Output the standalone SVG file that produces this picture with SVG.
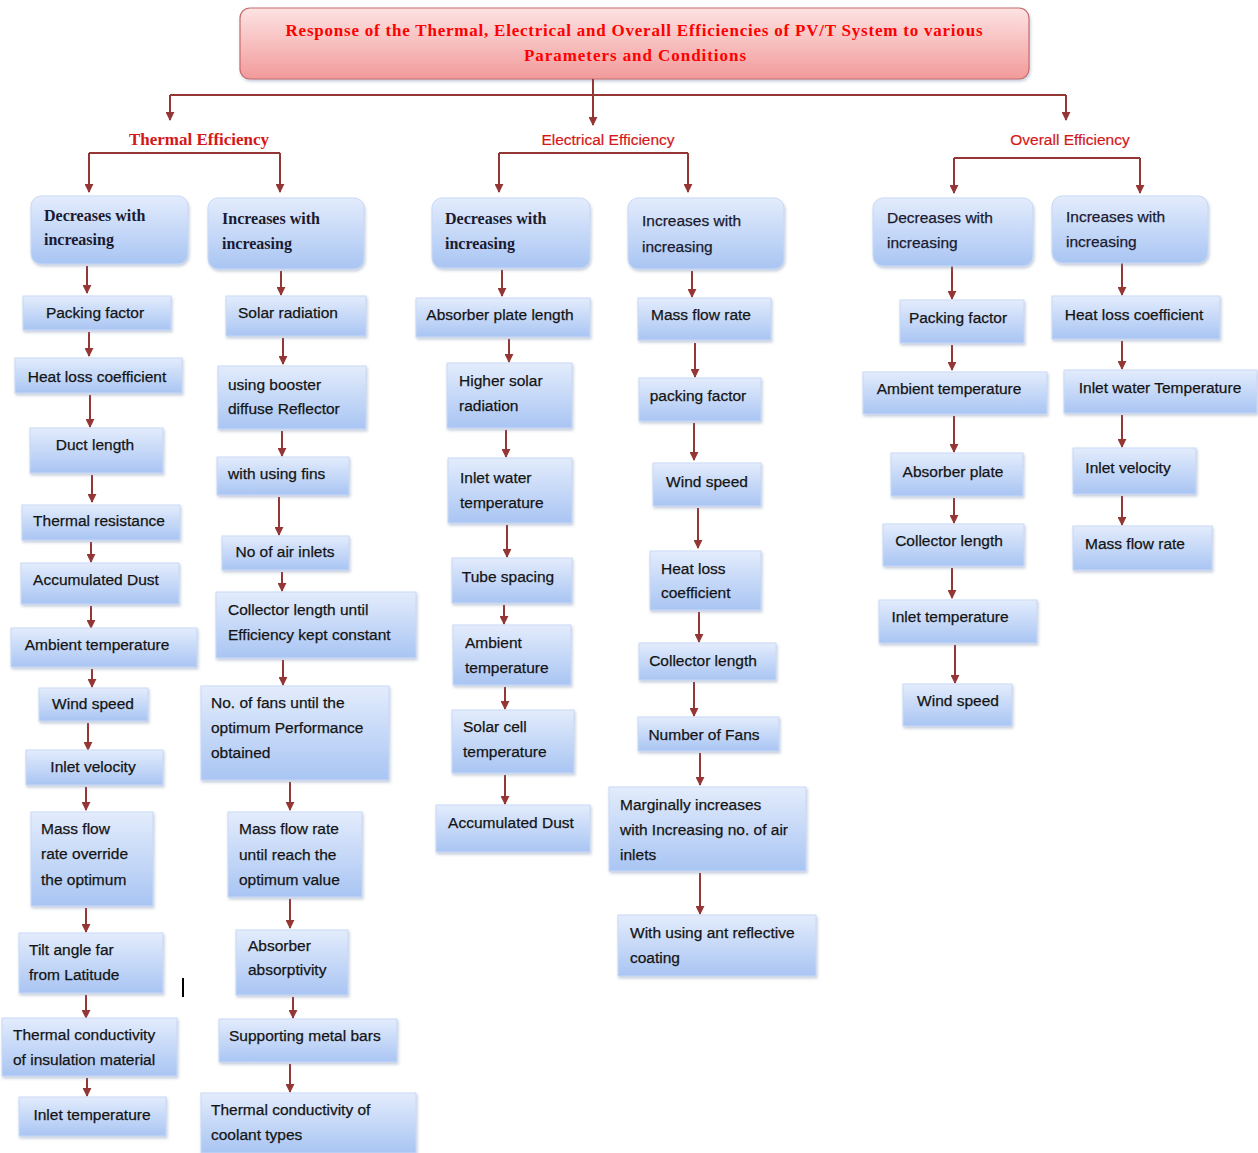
<svg xmlns="http://www.w3.org/2000/svg" width="1258" height="1153" viewBox="0 0 1258 1153">
<defs>
<linearGradient id="gb" x1="0" y1="0" x2="0" y2="1">
<stop offset="0" stop-color="#e3ecfc"/>
<stop offset="1" stop-color="#a9c5f3"/>
</linearGradient>
<linearGradient id="gp" x1="0" y1="0" x2="0" y2="1">
<stop offset="0" stop-color="#fde3e3"/>
<stop offset="1" stop-color="#f29a9a"/>
</linearGradient>
<filter id="sh" x="-10%" y="-10%" width="125%" height="130%">
<feDropShadow dx="1" dy="2" stdDeviation="1.5" flood-color="#7f8fb0" flood-opacity="0.45"/>
</filter>
<marker id="ah" viewBox="0 0 10 10" refX="9" refY="5" markerWidth="9" markerHeight="9" markerUnits="userSpaceOnUse" orient="auto">
<path d="M0,0 L10,5 L0,10 z" fill="#943634"/>
</marker>
</defs>
<style>
.b{fill:url(#gb);stroke:#c9d9f6;stroke-width:1;filter:url(#sh)}
.t{font-family:"Liberation Sans",Arial,sans-serif;font-size:15.5px;fill:#141414;stroke:#141414;stroke-width:0.25}
.c{text-anchor:middle}
.h{font-family:"Liberation Serif","Times New Roman",serif;font-size:16px;font-weight:bold;fill:#1a1a30}
.hs{font-family:"Liberation Sans",Arial,sans-serif;font-size:15.5px;fill:#1a1a30;stroke:#1a1a30;stroke-width:0.25}
.cat{font-family:"Liberation Sans",Arial,sans-serif;font-size:15.5px;fill:#d41818;text-anchor:middle;stroke:#d41818;stroke-width:0.2}
.cats{font-family:"Liberation Serif","Times New Roman",serif;font-size:17px;font-weight:bold;fill:#d41818;text-anchor:middle}
.ln{stroke:#943634;stroke-width:2;fill:none}
.ar{stroke:#943634;stroke-width:2;fill:none;marker-end:url(#ah)}
</style>
<rect width="1258" height="1153" fill="#ffffff"/>

<g id="title">
<rect x="240" y="8" width="789" height="71" rx="10" fill="url(#gp)" stroke="#c76a6a" stroke-width="1.2" filter="url(#sh)"/>
<text x="634" y="36" text-anchor="middle" font-family="Liberation Serif,serif" font-size="17" font-weight="bold" fill="#ff0000" textLength="697">Response of the Thermal, Electrical and Overall Efficiencies of PV/T System to various</text>
<text x="635" y="61" text-anchor="middle" font-family="Liberation Serif,serif" font-size="17" font-weight="bold" fill="#ff0000" textLength="222">Parameters and  Conditions</text>
</g>

<g id="connectors">
<path class="ln" d="M593,79 V95 M170,95 H1066"/>
<path class="ar" d="M170,95 V120"/>
<path class="ar" d="M593,95 V125"/>
<path class="ar" d="M1066,95 V120"/>
<path class="ln" d="M89,153 H280"/>
<path class="ar" d="M89,153 V192"/>
<path class="ar" d="M280,153 V192"/>
<path class="ln" d="M499,153 H688"/>
<path class="ar" d="M499,153 V192"/>
<path class="ar" d="M688,153 V192"/>
<path class="ln" d="M954,158 H1140"/>
<path class="ar" d="M954,158 V193"/>
<path class="ar" d="M1140,158 V193"/>
<!-- col1 -->
<path class="ar" d="M87,266 V293"/>
<path class="ar" d="M89,332 V356"/>
<path class="ar" d="M90,395 V427"/>
<path class="ar" d="M92,475 V502"/>
<path class="ar" d="M91,542 V562"/>
<path class="ar" d="M91,606 V628"/>
<path class="ar" d="M92,669 V687"/>
<path class="ar" d="M88,723 V750"/>
<path class="ar" d="M86,787 V810"/>
<path class="ar" d="M86,908 V932"/>
<path class="ar" d="M86,995 V1018"/>
<path class="ar" d="M87,1078 V1096"/>
<!-- col2 -->
<path class="ar" d="M281,271 V295"/>
<path class="ar" d="M283,338 V364"/>
<path class="ar" d="M282,431 V456"/>
<path class="ar" d="M279,497 V535"/>
<path class="ar" d="M282,572 V591"/>
<path class="ar" d="M283,660 V685"/>
<path class="ar" d="M290,782 V810"/>
<path class="ar" d="M290,899 V928"/>
<path class="ar" d="M293,997 V1018"/>
<path class="ar" d="M290,1064 V1092"/>
<!-- col3 -->
<path class="ar" d="M502,270 V296"/>
<path class="ar" d="M509,339 V362"/>
<path class="ar" d="M506,430 V457"/>
<path class="ar" d="M507,525 V557"/>
<path class="ar" d="M504,605 V624"/>
<path class="ar" d="M505,687 V709"/>
<path class="ar" d="M505,775 V804"/>
<!-- col4 -->
<path class="ar" d="M692,271 V297"/>
<path class="ar" d="M695,343 V377"/>
<path class="ar" d="M694,423 V460"/>
<path class="ar" d="M698,508 V548"/>
<path class="ar" d="M699,612 V642"/>
<path class="ar" d="M694,682 V716"/>
<path class="ar" d="M700,753 V785"/>
<path class="ar" d="M700,873 V914"/>
<!-- col5 -->
<path class="ar" d="M952,266 V299"/>
<path class="ar" d="M952,345 V370"/>
<path class="ar" d="M954,416 V452"/>
<path class="ar" d="M954,498 V523"/>
<path class="ar" d="M952,568 V598"/>
<path class="ar" d="M955,645 V683"/>
<!-- col6 -->
<path class="ar" d="M1122,263 V295"/>
<path class="ar" d="M1122,341 V369"/>
<path class="ar" d="M1122,415 V447"/>
<path class="ar" d="M1122,496 V525"/>
</g>

<g id="labels">
<text class="cats" x="199" y="145">Thermal Efficiency</text>
<text class="cat" x="608" y="145">Electrical Efficiency</text>
<text class="cat" x="1070" y="145">Overall Efficiency</text>
</g>

<!-- Column 1 -->
<g id="td-head"><rect class="b" x="31" y="196" width="157" height="68" rx="10"/><text class="h" x="44" y="221">Decreases with<tspan x="44" y="245">increasing</tspan></text></g>
<g id="td1"><rect class="b" x="23" y="296" width="148" height="34"/><text class="t c" x="95" y="318">Packing factor</text></g>
<g id="td2"><rect class="b" x="15" y="358" width="167" height="35"/><text class="t c" x="97" y="382">Heat loss coefficient</text></g>
<g id="td3"><rect class="b" x="30" y="428" width="133" height="45"/><text class="t c" x="95" y="450">Duct length</text></g>
<g id="td4"><rect class="b" x="22" y="505" width="158" height="35"/><text class="t c" x="99" y="526">Thermal resistance</text></g>
<g id="td5"><rect class="b" x="21" y="563" width="158" height="41"/><text class="t c" x="96" y="585">Accumulated Dust</text></g>
<g id="td6"><rect class="b" x="11" y="628" width="186" height="39"/><text class="t c" x="97" y="650">Ambient temperature</text></g>
<g id="td7"><rect class="b" x="39" y="688" width="109" height="33"/><text class="t c" x="93" y="709">Wind speed</text></g>
<g id="td8"><rect class="b" x="26" y="750" width="137" height="35"/><text class="t c" x="93" y="772">Inlet velocity</text></g>
<g id="td9"><rect class="b" x="31" y="812" width="122" height="94"/><text class="t" x="41" y="834">Mass flow<tspan x="41" y="859">rate override</tspan><tspan x="41" y="885">the optimum</tspan></text></g>
<g id="td10"><rect class="b" x="19" y="933" width="144" height="60"/><text class="t" x="29" y="955">Tilt angle far<tspan x="29" y="980">from Latitude</tspan></text></g>
<g id="td11"><rect class="b" x="2" y="1018" width="175" height="58"/><text class="t" x="13" y="1040">Thermal conductivity<tspan x="13" y="1065">of insulation material</tspan></text></g>
<g id="td12"><rect class="b" x="19" y="1097" width="147" height="39"/><text class="t c" x="92" y="1120">Inlet temperature</text></g>
<line x1="183" y1="978" x2="183" y2="997" stroke="#000000" stroke-width="2"/>

<!-- Column 2 -->
<g id="ti-head"><rect class="b" x="208" y="198" width="156" height="71" rx="10"/><text class="h" x="222" y="224">Increases with<tspan x="222" y="249">increasing</tspan></text></g>
<g id="ti1"><rect class="b" x="226" y="296" width="140" height="40"/><text class="t c" x="288" y="318">Solar radiation</text></g>
<g id="ti2"><rect class="b" x="218" y="366" width="148" height="63"/><text class="t" x="228" y="390">using booster<tspan x="228" y="414">diffuse Reflector</tspan></text></g>
<g id="ti3"><rect class="b" x="217" y="457" width="132" height="38"/><text class="t" x="228" y="479">with using fins</text></g>
<g id="ti4"><rect class="b" x="222" y="536" width="127" height="34"/><text class="t c" x="285" y="557">No of air inlets</text></g>
<g id="ti5"><rect class="b" x="216" y="592" width="200" height="66"/><text class="t" x="228" y="615">Collector length until<tspan x="228" y="640">Efficiency kept constant</tspan></text></g>
<g id="ti6"><rect class="b" x="201" y="686" width="188" height="94"/><text class="t" x="211" y="708">No. of fans until the<tspan x="211" y="733">optimum Performance</tspan><tspan x="211" y="758">obtained</tspan></text></g>
<g id="ti7"><rect class="b" x="228" y="812" width="134" height="85"/><text class="t" x="239" y="834">Mass flow rate<tspan x="239" y="860">until reach the</tspan><tspan x="239" y="885">optimum value</tspan></text></g>
<g id="ti8"><rect class="b" x="236" y="930" width="112" height="65"/><text class="t" x="248" y="951">Absorber<tspan x="248" y="975">absorptivity</tspan></text></g>
<g id="ti9"><rect class="b" x="219" y="1019" width="178" height="43"/><text class="t" x="229" y="1041">Supporting  metal bars</text></g>
<g id="ti10"><rect class="b" x="201" y="1093" width="215" height="60"/><text class="t" x="211" y="1115">Thermal conductivity of<tspan x="211" y="1140">coolant types</tspan></text></g>

<!-- Column 3 -->
<g id="ed-head"><rect class="b" x="432" y="198" width="158" height="70" rx="10"/><text class="h" x="445" y="224">Decreases with<tspan x="445" y="249">increasing</tspan></text></g>
<g id="ed1"><rect class="b" x="416" y="298" width="174" height="39"/><text class="t c" x="500" y="320">Absorber plate length</text></g>
<g id="ed2"><rect class="b" x="447" y="363" width="125" height="65"/><text class="t" x="459" y="386">Higher solar<tspan x="459" y="411">radiation</tspan></text></g>
<g id="ed3"><rect class="b" x="448" y="458" width="124" height="65"/><text class="t" x="460" y="483">Inlet water<tspan x="460" y="508">temperature</tspan></text></g>
<g id="ed4"><rect class="b" x="452" y="558" width="120" height="45"/><text class="t c" x="508" y="582">Tube spacing</text></g>
<g id="ed5"><rect class="b" x="453" y="625" width="118" height="60"/><text class="t" x="465" y="648">Ambient<tspan x="465" y="673">temperature</tspan></text></g>
<g id="ed6"><rect class="b" x="452" y="710" width="122" height="63"/><text class="t" x="463" y="732">Solar cell<tspan x="463" y="757">temperature</tspan></text></g>
<g id="ed7"><rect class="b" x="436" y="805" width="154" height="47"/><text class="t c" x="511" y="828">Accumulated Dust</text></g>

<!-- Column 4 -->
<g id="ei-head"><rect class="b" x="628" y="198" width="156" height="71" rx="10"/><text class="hs" x="642" y="226">Increases with<tspan x="642" y="252">increasing</tspan></text></g>
<g id="ei1"><rect class="b" x="638" y="298" width="133" height="42"/><text class="t c" x="701" y="320">Mass flow rate</text></g>
<g id="ei2"><rect class="b" x="639" y="378" width="122" height="43"/><text class="t c" x="698" y="401">packing factor</text></g>
<g id="ei3"><rect class="b" x="653" y="463" width="108" height="43"/><text class="t c" x="707" y="487">Wind speed</text></g>
<g id="ei4"><rect class="b" x="650" y="551" width="111" height="59"/><text class="t" x="661" y="574">Heat loss<tspan x="661" y="598">coefficient</tspan></text></g>
<g id="ei5"><rect class="b" x="639" y="643" width="137" height="37"/><text class="t c" x="703" y="666">Collector length</text></g>
<g id="ei6"><rect class="b" x="638" y="717" width="141" height="34"/><text class="t c" x="704" y="740">Number of Fans</text></g>
<g id="ei7"><rect class="b" x="609" y="787" width="197" height="84"/><text class="t" x="620" y="810">Marginally increases<tspan x="620" y="835">with Increasing no. of air</tspan><tspan x="620" y="860">inlets</tspan></text></g>
<g id="ei8"><rect class="b" x="618" y="915" width="198" height="61"/><text class="t" x="630" y="938">With using ant reflective<tspan x="630" y="963">coating</tspan></text></g>

<!-- Column 5 -->
<g id="od-head"><rect class="b" x="873" y="198" width="160" height="68" rx="10"/><text class="hs" x="887" y="223">Decreases with<tspan x="887" y="248">increasing</tspan></text></g>
<g id="od1"><rect class="b" x="900" y="300" width="124" height="43"/><text class="t c" x="958" y="323">Packing factor</text></g>
<g id="od2"><rect class="b" x="863" y="372" width="184" height="42"/><text class="t c" x="949" y="394">Ambient temperature</text></g>
<g id="od3"><rect class="b" x="891" y="453" width="132" height="43"/><text class="t c" x="953" y="477">Absorber plate</text></g>
<g id="od4"><rect class="b" x="883" y="524" width="141" height="42"/><text class="t c" x="949" y="546">Collector length</text></g>
<g id="od5"><rect class="b" x="879" y="600" width="158" height="43"/><text class="t c" x="950" y="622">Inlet temperature</text></g>
<g id="od6"><rect class="b" x="903" y="684" width="109" height="42"/><text class="t c" x="958" y="706">Wind speed</text></g>

<!-- Column 6 -->
<g id="oi-head"><rect class="b" x="1052" y="196" width="156" height="67" rx="10"/><text class="hs" x="1066" y="222">Increases with<tspan x="1066" y="247">increasing</tspan></text></g>
<g id="oi1"><rect class="b" x="1052" y="296" width="168" height="43"/><text class="t c" x="1134" y="320">Heat loss coefficient</text></g>
<g id="oi2"><rect class="b" x="1064" y="370" width="193" height="43"/><text class="t c" x="1160" y="393">Inlet water Temperature</text></g>
<g id="oi3"><rect class="b" x="1073" y="448" width="123" height="46"/><text class="t c" x="1128" y="473">Inlet velocity</text></g>
<g id="oi4"><rect class="b" x="1073" y="526" width="139" height="44"/><text class="t c" x="1135" y="549">Mass flow rate</text></g>
</svg>
